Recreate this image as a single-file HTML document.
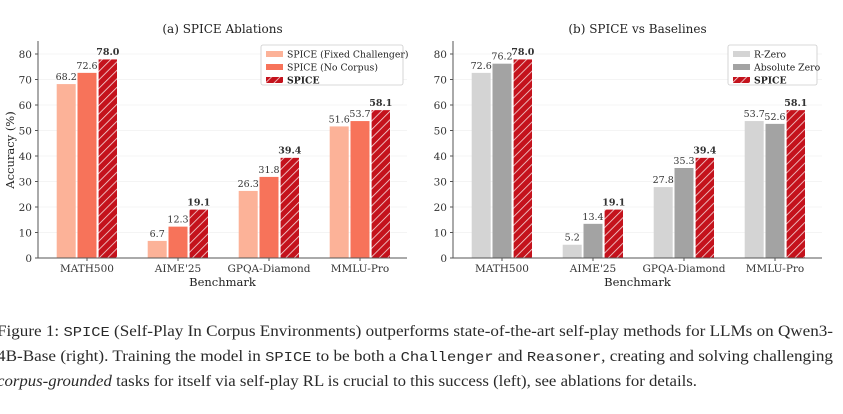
<!DOCTYPE html>
<html><head><meta charset="utf-8"><style>
body{margin:0;background:#fff;width:843px;height:414px;overflow:hidden;position:relative}
.cap{position:absolute;left:-3px;font-family:"Liberation Serif","DejaVu Serif",serif;font-size:15.5px;color:#2a2a2a;white-space:nowrap;transform-origin:0 0}
.mono{font-family:"Liberation Mono",monospace;font-size:14px}
</style></head><body>
<svg id="chart" width="843" height="300" style="position:absolute;left:0;top:0" font-family="DejaVu Serif, serif">
<defs><pattern id="hatch" patternUnits="userSpaceOnUse" width="6" height="6" patternTransform="rotate(45)"><rect width="6" height="6" fill="#c4121c"/><line x1="0" y1="0" x2="0" y2="6" stroke="#fff" stroke-width="1.6" opacity="0.85"/></pattern></defs>
</svg>
<div class="cap" style="top:323px">Figure 1: <span class="mono">SPICE</span> (Self-Play In Corpus Environments) outperforms state-of-the-art self-play methods for LLMs on Qwen3-</div>
<div class="cap" style="top:348px">4B-Base (right). Training the model in <span class="mono">SPICE</span> to be both a <span class="mono">Challenger</span> and <span class="mono">Reasoner</span>, creating and solving challenging</div>
<div class="cap" style="top:373px"><i>corpus-grounded</i> tasks for itself via self-play RL is crucial to this success (left), see ablations for details.</div>
<script>
const categories=["MATH500","AIME'25","GPQA-Diamond","MMLU-Pro"];
const ticks=[0,10,20,30,40,50,60,70,80];
const ablFixed=[68.2,6.7,26.3,51.6];
const ablNoCorpus=[72.6,12.3,31.8,53.7];
const spice=[78.0,19.1,39.4,58.1];
const rZero=[72.6,5.2,27.8,53.7];
const absZero=[76.2,13.4,35.3,52.6];
const NS="http://www.w3.org/2000/svg";
const svg=document.getElementById('chart');
function mk(t,a,p){const e=document.createElementNS(NS,t);for(const k in a)e.setAttribute(k,a[k]);(p||svg).appendChild(e);return e;}
function txt(x,y,s,a,p){const e=mk('text',Object.assign({x:x,y:y},a),p);e.textContent=s;return e;}
function panel(name,title,ax,axEnd,g0,series,labels,colors,legBox){
  const g=mk('g',{});
  
  
  const y0=258,k=2.55;const ys=v=>y0-v*k;
  const xs=i=>g0+i*91;
  const bw=19,step=20.8;
  ticks.forEach(t=>{
    if(t>0){const gl=mk('line',{x1:ax,x2:axEnd,y1:ys(t),y2:ys(t),stroke:'#f0f0f0','stroke-width':0.7},g);}
    mk('line',{x1:ax-3,x2:ax,y1:ys(t),y2:ys(t),stroke:'#555'},g);
    const tl=txt(ax-6,ys(t)+3.8,String(t),{'font-size':10.5,'text-anchor':'end',fill:'#333'},g);
    
  });
  series.forEach((arr,s)=>{
    arr.forEach((v,i)=>{
      const x=xs(i)+(s-1)*step-bw/2;
      const r=mk('rect',{x:x,y:ys(v),width:bw,height:v*k,fill:colors[s],stroke:s==2?'#fff':'none','stroke-width':0.6},g);
      
      
      const vl=txt(x+bw/2,ys(v)-4,v.toFixed(1),{'font-size':9.5,'text-anchor':'middle',fill:'#333','font-weight':s==2?'bold':'normal'},g);
      
    });
  });
  mk('line',{x1:ax,x2:ax,y1:41,y2:y0,stroke:'#555','stroke-width':1},g);
  mk('line',{x1:ax,x2:axEnd,y1:y0,y2:y0,stroke:'#555','stroke-width':1},g);
  categories.forEach((c,i)=>{
    mk('line',{x1:xs(i),x2:xs(i),y1:y0,y2:y0+3,stroke:'#555'},g);
    const cl=txt(xs(i),y0+14,c,{'font-size':10.5,'text-anchor':'middle',fill:'#333'},g);
    
  });
  const xt=txt((ax+axEnd)/2,y0+28,'Benchmark',{'font-size':11.5,'text-anchor':'middle',fill:'#222'},g);
  
  const tt=txt((ax+axEnd)/2,33,title,{'font-size':12,'text-anchor':'middle',fill:'#222'},g);
  
  const lg=mk('g',{},g);
  
  mk('rect',{x:legBox[0],y:45,width:legBox[1],height:40,fill:'#fff',stroke:'#ccc','stroke-width':0.8,rx:2},lg);
  labels.forEach((l,s)=>{
    const yy=51+s*13;
    mk('rect',{x:legBox[0]+5,y:yy,width:17,height:6,fill:colors[s]},lg);
    const le=txt(legBox[0]+26,yy+6.5,l,{'font-size':9.3,fill:'#222','font-weight':s==2?'bold':'normal'},lg);
    
  });
  return g;
}
panel('ablations-chart','(a) SPICE Ablations',38,407,87,[ablFixed,ablNoCorpus,spice],['SPICE (Fixed Challenger)','SPICE (No Corpus)','SPICE'],['#fcb298','#f7735a','url(#hatch)'],[261,142]);
panel('baselines-chart','(b) SPICE vs Baselines',453,822,502,[rZero,absZero,spice],['R-Zero','Absolute Zero','SPICE'],['#d4d4d4','#a3a3a3','url(#hatch)'],[728,89]);
const yl=txt(0,0,'Accuracy (%)',{'font-size':11.5,'text-anchor':'middle',fill:'#222',transform:'translate(14,150) rotate(-90)'});

const targets=[833,833,697];
document.querySelectorAll('.cap').forEach((d,i)=>{const w=d.getBoundingClientRect().width;d.style.transform='scaleX('+(targets[i]+3)/w+')';});
</script>
</body></html>
